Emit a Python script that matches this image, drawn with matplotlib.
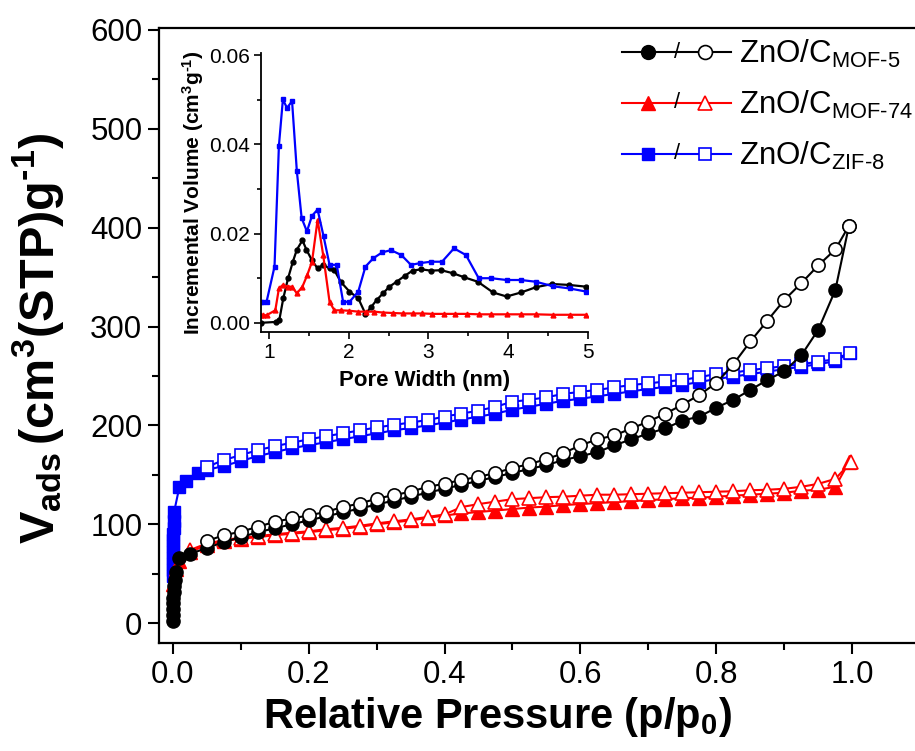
import numpy as np
import matplotlib
matplotlib.use('Agg')
from matplotlib import pyplot as plt
from matplotlib.lines import Line2D
from matplotlib.text import Text
from matplotlib.legend_handler import HandlerBase
from matplotlib.ticker import MultipleLocator

plt.rcParams['font.family'] = ['Liberation Sans', 'DejaVu Sans']
plt.rcParams['mathtext.fontset'] = 'custom'
plt.rcParams['mathtext.rm'] = 'Liberation Sans'
plt.rcParams['mathtext.it'] = 'Liberation Sans:italic'
plt.rcParams['mathtext.bf'] = 'Liberation Sans:bold'

# ---- isotherms (p/p0, cm3/g) ----
mof5_p_ads = [0.0001, 0.0002, 0.0004, 0.0006, 0.0009, 0.0013, 0.002, 0.003, 0.005, 0.01,
              0.025, 0.05, 0.075, 0.1, 0.125, 0.15, 0.175, 0.2, 0.225, 0.25, 0.275, 0.3,
              0.325, 0.35, 0.375, 0.4, 0.425, 0.45, 0.475, 0.5, 0.525, 0.55, 0.575, 0.6,
              0.625, 0.65, 0.675, 0.7, 0.725, 0.75, 0.775, 0.8, 0.825, 0.85, 0.875, 0.9,
              0.925, 0.95, 0.975, 0.995]
mof5_v_ads = [2, 8, 14, 20, 26, 32, 38, 44, 52, 66,
              70, 76, 82, 87, 92, 96, 100, 104, 108, 112, 116, 120,
              124, 128, 132, 136, 140, 144, 148, 152, 156, 160, 165, 169,
              173, 180, 186, 192, 197, 205, 209, 218, 226, 236, 246, 255,
              271, 297, 337, 402]
mof5_p_des = [0.995, 0.975, 0.95, 0.925, 0.9, 0.875, 0.85, 0.825, 0.8, 0.775, 0.75, 0.725,
              0.7, 0.675, 0.65, 0.625, 0.6, 0.575, 0.55, 0.525, 0.5, 0.475, 0.45, 0.425,
              0.4, 0.375, 0.35, 0.325, 0.3, 0.275, 0.25, 0.225, 0.2, 0.175, 0.15, 0.125,
              0.1, 0.075, 0.05]
mof5_v_des = [402, 378, 362, 344, 327, 306, 285, 262, 243, 231, 221, 212,
              204, 197, 190, 186, 180, 172, 166, 161, 157, 152, 148, 145,
              141, 138, 133, 129.5, 126, 121, 117.5, 112.5, 109, 106, 102.5, 97.5,
              92.5, 89, 83]

mof74_p_ads = [0.001, 0.005, 0.01, 0.025, 0.05, 0.075, 0.1, 0.125, 0.15, 0.175, 0.2,
               0.225, 0.25, 0.275, 0.3, 0.325, 0.35, 0.375, 0.4, 0.425, 0.45, 0.475,
               0.5, 0.525, 0.55, 0.575, 0.6, 0.625, 0.65, 0.675, 0.7, 0.725, 0.75,
               0.775, 0.8, 0.825, 0.85, 0.875, 0.9, 0.925, 0.95, 0.975, 0.995]
mof74_v_ads = [40, 55, 63, 72, 79, 83, 85.5, 87, 89, 90.5, 92,
               94, 95.5, 97.5, 100, 102, 104, 106.5, 109, 111, 112.5, 114,
               115.5, 117, 118, 119.5, 120.5, 121.5, 122.5, 123.5, 124.5, 125.5, 126.5,
               127, 128, 129, 130, 131, 132, 134, 135, 138, 163]
mof74_p_des = [0.998, 0.975, 0.95, 0.925, 0.9, 0.875, 0.85, 0.825, 0.8, 0.775, 0.75,
               0.725, 0.7, 0.675, 0.65, 0.625, 0.6, 0.575, 0.55, 0.525, 0.5, 0.475,
               0.45, 0.425, 0.4, 0.375, 0.35, 0.325, 0.3, 0.275, 0.25, 0.225, 0.2,
               0.175, 0.15, 0.125, 0.1, 0.075, 0.05, 0.025]
mof74_v_des = [163, 146, 141, 138, 136, 135, 134.5, 133.5, 133, 132.5, 132,
               131.5, 131, 130.5, 130, 130, 129, 128, 127.5, 126.5, 125.5, 123,
               120.5, 117.5, 110, 107.5, 105, 103, 101, 98.5, 96.5, 95, 93,
               91.5, 90, 88, 86.5, 84, 80.5, 74]

zif8_p_ads = [0.0001, 0.0002, 0.0003, 0.0004, 0.0005, 0.0006, 0.0008, 0.001, 0.0013,
              0.0016, 0.002, 0.01, 0.02, 0.037, 0.05, 0.075, 0.1, 0.125, 0.15, 0.175,
              0.2, 0.225, 0.25, 0.275, 0.3, 0.325, 0.35, 0.375, 0.4, 0.425, 0.45, 0.475,
              0.5, 0.525, 0.55, 0.575, 0.6, 0.625, 0.65, 0.675, 0.7, 0.725, 0.75, 0.775,
              0.8, 0.825, 0.85, 0.875, 0.9, 0.925, 0.95, 0.975, 0.996]
zif8_v_ads = [48, 54, 60, 66, 72, 78, 84, 90, 96, 103, 112, 138, 144, 152, 155, 159,
              164, 169, 173, 177, 180, 183, 186, 189, 192, 195, 197.5, 200, 203, 206,
              209, 212, 216, 219, 222, 225, 227, 229.5, 232, 234.5, 237, 239, 241, 244,
              247, 249.5, 252, 254.5, 257, 259.5, 262, 265, 273.6]
zif8_p_des = [0.996, 0.975, 0.95, 0.925, 0.9, 0.875, 0.85, 0.825, 0.8, 0.775, 0.75,
              0.725, 0.7, 0.675, 0.65, 0.625, 0.6, 0.575, 0.55, 0.525, 0.5, 0.475, 0.45,
              0.425, 0.4, 0.375, 0.35, 0.325, 0.3, 0.275, 0.25, 0.225, 0.2, 0.175, 0.15,
              0.125, 0.1, 0.075, 0.05]
zif8_v_des = [273.6, 267, 264.5, 262, 260, 258, 256, 253.5, 252, 249, 246,
              244.5, 242.6, 241, 238.5, 236, 234, 232, 228.5, 226, 224, 219, 215,
              212, 209, 205.5, 203, 200.5, 198, 195, 192, 189, 186, 182.5, 179,
              175, 170, 165, 158]

# ---- pore size distribution inset (nm, cm3/g) ----
psd_mof5_w = [0.904, 1.09, 1.13, 1.18, 1.24, 1.3, 1.35, 1.42, 1.47, 1.54, 1.61, 1.68,
              1.76, 1.82, 1.9, 2.01, 2.12, 2.21, 2.28, 2.35, 2.43, 2.51, 2.6, 2.7, 2.8,
              2.91, 3.03, 3.16, 3.31, 3.45, 3.62, 3.81, 3.98, 4.16, 4.35, 4.55, 4.76, 4.98]
psd_mof5_v = [0.0, 0.0002, 0.0006, 0.0055, 0.010, 0.0137, 0.0164, 0.0185, 0.0164, 0.014,
              0.0122, 0.013, 0.0122, 0.0118, 0.0092, 0.007, 0.0055, 0.002, 0.0035, 0.0051,
              0.0066, 0.0081, 0.0092, 0.0105, 0.0117, 0.012, 0.0117, 0.0118, 0.0111,
              0.0102, 0.0092, 0.0068, 0.0059, 0.0068, 0.008, 0.0087, 0.0085, 0.0081]
psd_mof74_w = [0.9, 0.93, 0.97, 1.08, 1.125, 1.175, 1.24, 1.29, 1.35, 1.42, 1.48, 1.54,
               1.61, 1.68, 1.76, 1.82, 1.9, 2.01, 2.12, 2.22, 2.32, 2.43, 2.55, 2.68,
               2.8, 2.92, 3.05, 3.19, 3.33, 3.48, 3.63, 3.79, 3.98, 4.16, 4.35, 4.56,
               4.77, 4.98]
psd_mof74_v = [0.0017, 0.0017, 0.0017, 0.0028, 0.0077, 0.0085, 0.0081, 0.0081, 0.0066,
               0.0081, 0.0107, 0.0137, 0.0231, 0.0152, 0.0047, 0.0028, 0.0028, 0.0027,
               0.0025, 0.0025, 0.0025, 0.0023, 0.0022, 0.0021, 0.0021, 0.0021, 0.002,
               0.002, 0.002, 0.002, 0.0019, 0.0019, 0.0019, 0.0019, 0.0019, 0.0018,
               0.0018, 0.0018]
psd_zif8_w = [0.904, 0.93, 0.97, 1.07, 1.125, 1.175, 1.226, 1.29, 1.35, 1.41, 1.476, 1.54,
              1.61, 1.685, 1.76, 1.85, 1.93, 2.01, 2.12, 2.21, 2.31, 2.42, 2.53, 2.66,
              2.78, 2.9, 3.03, 3.17, 3.32, 3.47, 3.63, 3.79, 3.98, 4.16, 4.35, 4.56,
              4.77, 4.98]
psd_zif8_v = [0.0047, 0.0047, 0.0047, 0.0126, 0.0397, 0.0501, 0.0482, 0.0497, 0.034,
              0.0235, 0.0205, 0.024, 0.0254, 0.0194, 0.013, 0.013, 0.0047, 0.0047, 0.007,
              0.0126, 0.0145, 0.0158, 0.0163, 0.0152, 0.013, 0.0134, 0.0137, 0.0137,
              0.0167, 0.0152, 0.010, 0.010, 0.0096, 0.0096, 0.0092, 0.0082, 0.0077, 0.007]

legend_labels = [r'ZnO/C$_{\mathrm{MOF‐5}}$', r'ZnO/C$_{\mathrm{MOF‐74}}$',
                 r'ZnO/C$_{\mathrm{ZIF‐8}}$']


class PairKey:
    def __init__(self, color, marker, ms):
        self.color = color
        self.marker = marker
        self.ms = ms


class PairHandler(HandlerBase):
    # line with filled marker / open marker
    def create_artists(self, legend, orig_handle, xdescent, ydescent, width, height,
                       fontsize, trans):
        c, m, ms = orig_handle.color, orig_handle.marker, orig_handle.ms
        x0 = -xdescent
        y = height / 2 - ydescent
        line = Line2D([x0, x0 + width], [y, y], color=c, lw=1.5, transform=trans)
        filled = Line2D([x0 + 0.24 * width], [y], marker=m, ms=ms, mfc=c, mec=c,
                        ls='none', transform=trans)
        slash = Text(x0 + 0.5 * width, y, '/', ha='center', va='center',
                     fontsize=fontsize * 0.7, color='black', transform=trans)
        hollow = Line2D([x0 + 0.76 * width], [y], marker=m, ms=ms, mfc='white', mec=c,
                        mew=1.2, ls='none', transform=trans)
        return [line, filled, slash, hollow]


fig = plt.figure(figsize=(9.15, 7.51), dpi=100)
ax = fig.add_axes([0.1738, 0.1438, 0.832, 0.8189])

series = [
    (zif8_p_ads, zif8_v_ads, zif8_p_des, zif8_v_des, 'blue', 's', 8),
    (mof74_p_ads, mof74_v_ads, mof74_p_des, mof74_v_des, 'red', '^', 10),
    (mof5_p_ads, mof5_v_ads, mof5_p_des, mof5_v_des, 'black', 'o', 9.5),
]
for pa, va, pd, vd, c, m, ms in series:
    ax.plot(pa, va, color=c, marker=m, ms=ms, mfc=c, mec=c, lw=1.5)
    ax.plot(pd, vd, color=c, marker=m, ms=ms, mfc='white', mec=c, mew=1.2, lw=1.5)

ax.set_xlim(-0.02, 1.1)
ax.set_ylim(-20, 602)
ax.xaxis.set_minor_locator(MultipleLocator(0.1))
ax.yaxis.set_major_locator(MultipleLocator(100))
ax.yaxis.set_minor_locator(MultipleLocator(50))
ax.set_xticks([0, 0.2, 0.4, 0.6, 0.8, 1.0])
ax.set_xticklabels(['0.0', '0.2', '0.4', '0.6', '0.8', '1.0'])
ax.tick_params(which='major', direction='out', length=8, width=1.5, labelsize=22.5, pad=4)
ax.tick_params(which='minor', direction='out', length=5, width=1.5)
for s in ['left', 'bottom', 'top', 'right']:
    ax.spines[s].set_linewidth(1.6)

ax.set_xlabel(r'Relative Pressure $\mathbf{(p/p_0)}$', fontsize=30, fontweight='bold')
ax.xaxis.set_label_coords(0.444, -0.084)
ax.set_ylabel(r'$\mathbf{V_{ads}\,(cm^3(STP)g^{‐1})}$', fontsize=35, fontweight='bold')
ax.yaxis.set_label_coords(-0.122, 0.495)

keys = [PairKey('black', 'o', 10), PairKey('red', '^', 10.5), PairKey('blue', 's', 8.5)]
leg = ax.legend(keys, legend_labels, handler_map={PairKey: PairHandler()},
                loc='upper left', bbox_to_anchor=(622 / 915, 1 - 38 / 751),
                bbox_transform=fig.transFigure, frameon=False, fontsize=22.5,
                handlelength=3.5, handletextpad=0.25, labelspacing=0.6,
                borderaxespad=0, borderpad=0)

# inset: pore size distribution
ins = fig.add_axes([0.2852, 0.5583, 0.3574, 0.371])
ins.plot(psd_mof5_w, psd_mof5_v, color='black', marker='o', ms=3.5, lw=1.6)
ins.plot(psd_mof74_w, psd_mof74_v, color='red', marker='^', ms=3.5, lw=1.6)
ins.plot(psd_zif8_w, psd_zif8_v, color='blue', marker='s', ms=3.5, lw=1.6)
ins.set_xlim(0.9, 5)
ins.set_ylim(-0.002, 0.0605)
ins.spines['top'].set_visible(False)
ins.spines['right'].set_visible(False)
ins.spines['left'].set_linewidth(1.3)
ins.spines['bottom'].set_linewidth(1.3)
ins.xaxis.set_major_locator(MultipleLocator(1))
ins.xaxis.set_minor_locator(MultipleLocator(0.5))
ins.yaxis.set_minor_locator(MultipleLocator(0.01))
ins.set_yticks([0, 0.02, 0.04, 0.06])
ins.set_yticklabels(['0.00', '0.02', '0.04', '0.06'])
ins.tick_params(which='major', direction='out', length=5, width=1.2, labelsize=15, pad=3)
ins.tick_params(which='minor', direction='out', length=3, width=1.2)
ins.set_xlabel('Pore Width (nm)', fontsize=16, fontweight='bold', labelpad=6)
ins.set_ylabel(r'Incremental Volume $\mathbf{(cm^3g^{‐1})}$', fontsize=15,
               fontweight='bold', labelpad=2)

fig.savefig('out.png', dpi=100)
